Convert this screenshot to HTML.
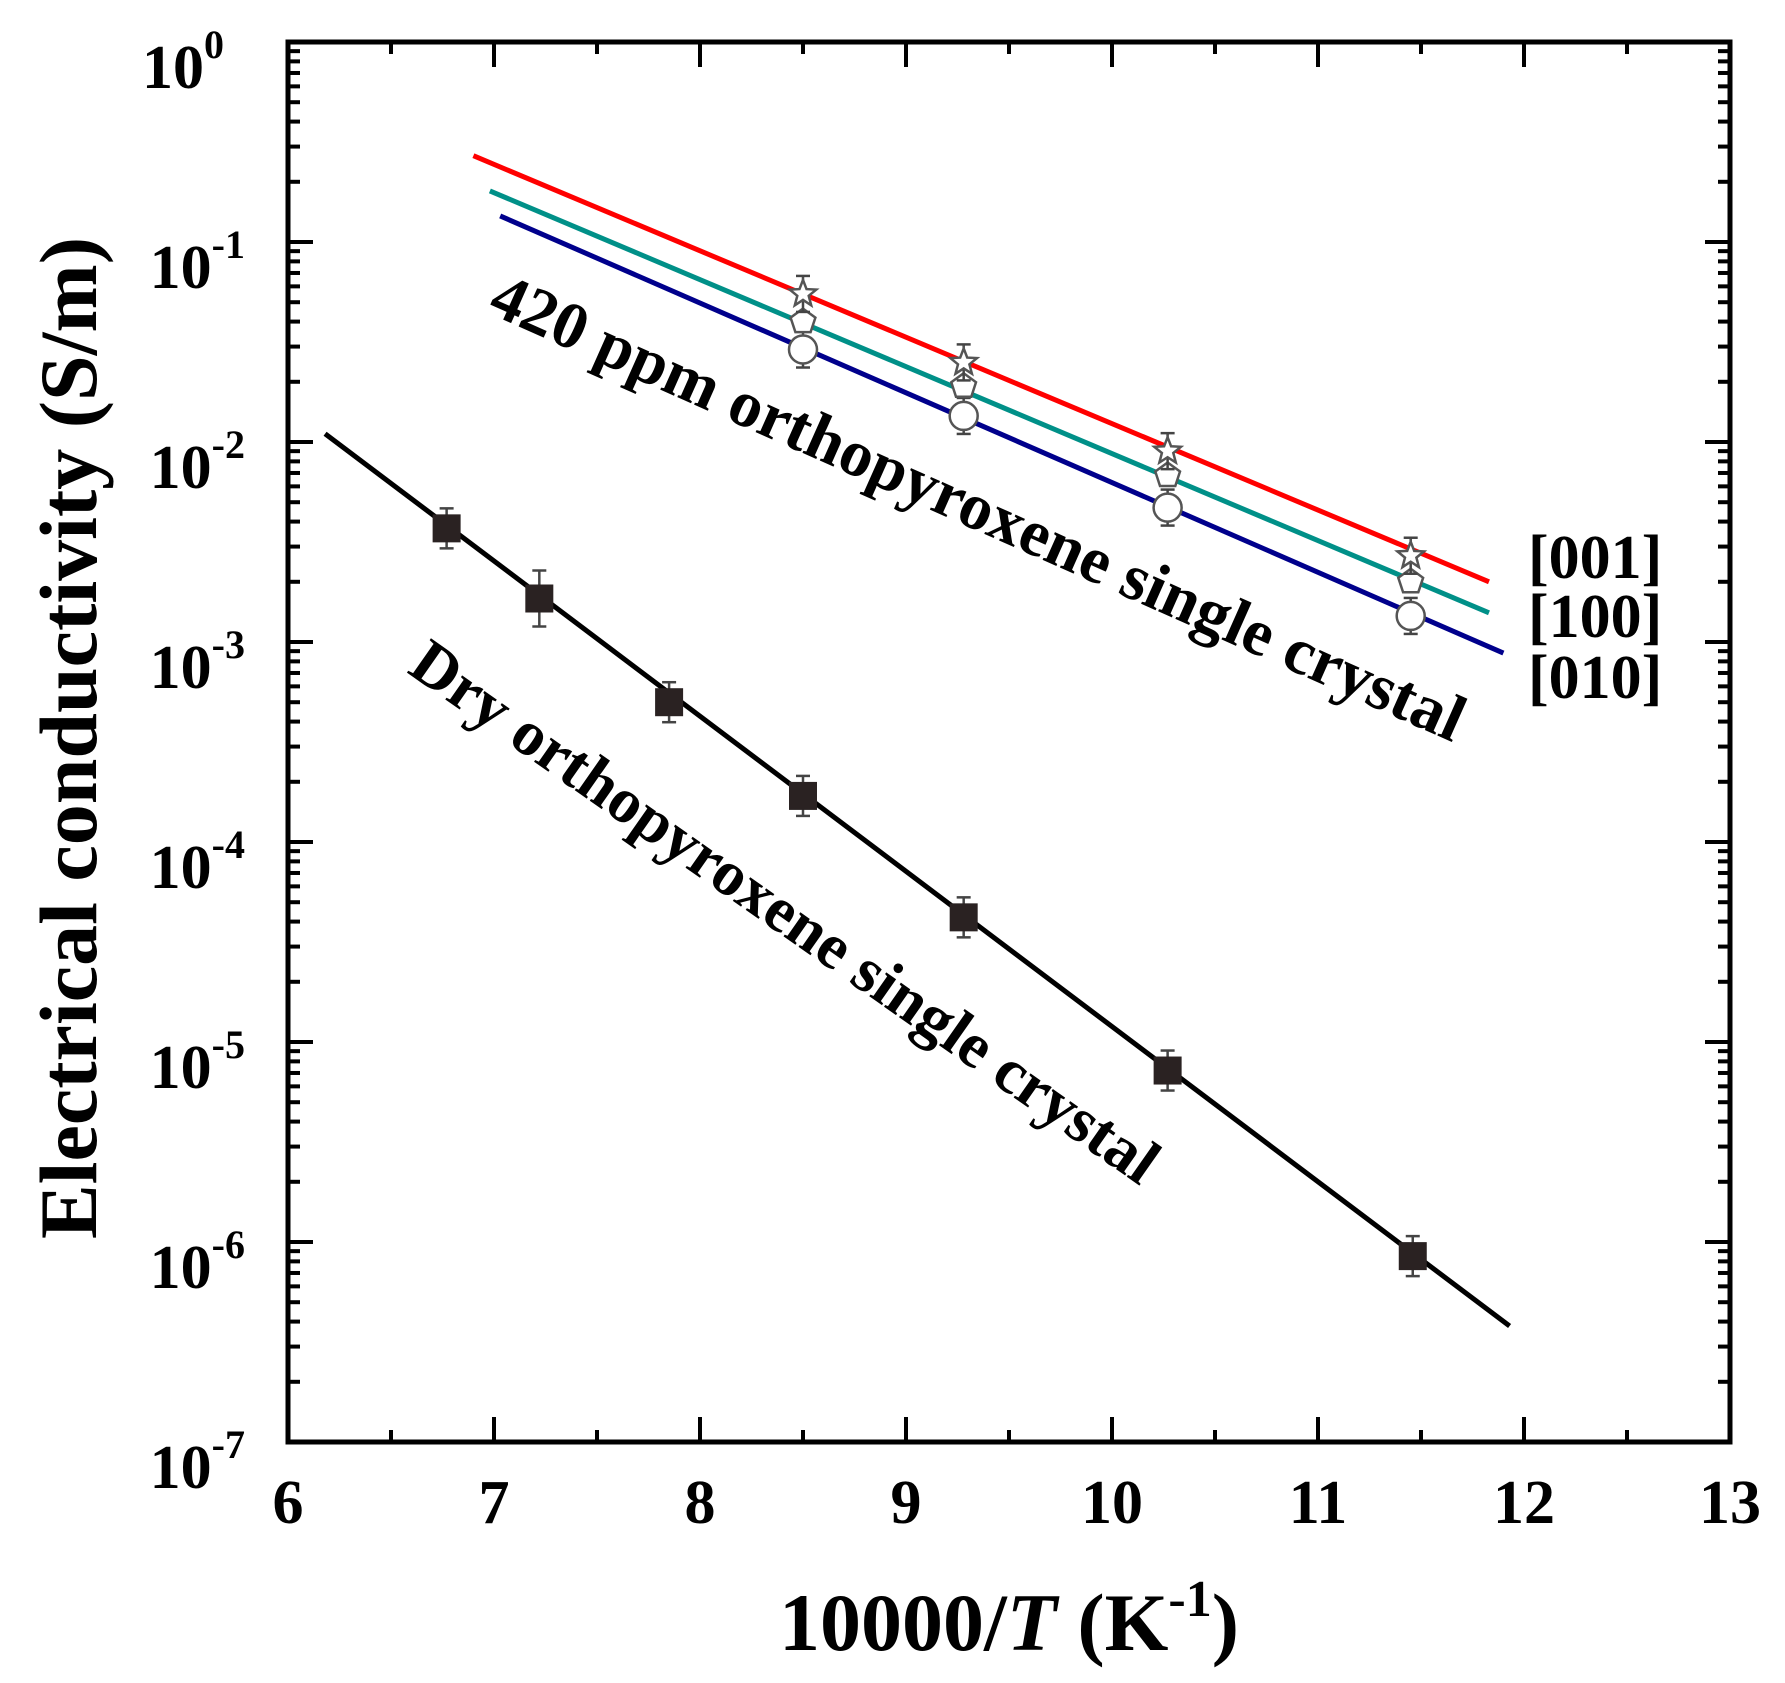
<!DOCTYPE html>
<html><head><meta charset="utf-8"><style>
html,body{margin:0;padding:0;background:#fff;}
svg{display:block;font-family:"Liberation Serif",serif;font-weight:bold;}
</style></head><body>
<svg id="s" width="1785" height="1683" viewBox="0 0 1785 1683" xmlns="http://www.w3.org/2000/svg"></svg>
<script>
const L=288,R=1730,T=42,B=1442;
const X=v=>L+(v-6)*(R-L)/7;
const Y=v=>T+(-Math.log10(v))*(B-T)/7;
let h='';
for(let i=6;i<=13;i+=0.5){const x=X(i);const len=(i%1===0)?25:12;
 h+=`<line x1="${x}" y1="${B}" x2="${x}" y2="${B-len}" stroke="#000" stroke-width="4"/>`;
 h+=`<line x1="${x}" y1="${T}" x2="${x}" y2="${T+len}" stroke="#000" stroke-width="4"/>`;
 if(i%1===0) h+=`<text x="${x}" y="1523" font-size="62" text-anchor="middle">${i}</text>`;}
for(let d=0;d>=-7;d--){
 for(let m=1;m<=9;m++){if(d===0&&m>1)break;
  const y=Y(m*Math.pow(10,d));if(y<T-1||y>B+1)continue;const len=m===1?25:12;
  h+=`<line x1="${L}" y1="${y}" x2="${L+len}" y2="${y}" stroke="#000" stroke-width="4"/>`;
  h+=`<line x1="${R}" y1="${y}" x2="${R-len}" y2="${y}" stroke="#000" stroke-width="4"/>`;}
 const y=Y(Math.pow(10,d));
 h+=`<text x="${d===0?224:245}" y="${y+46}" font-size="62" text-anchor="end">10<tspan dy="-30" font-size="40">${d===0?'0':'-'+(-d)}</tspan></text>`;
}
h+=`<rect x="${L}" y="${T}" width="${R-L}" height="${B-T}" fill="none" stroke="#000" stroke-width="5"/>`;
const ln=(x1,y1,x2,y2,c)=>`<line x1="${X(x1)}" y1="${Y(y1)}" x2="${X(x2)}" y2="${Y(y2)}" stroke="${c}" stroke-width="5"/>`;
h+=ln(6.18,1.1e-2,11.93,3.8e-7,'#000');
h+=ln(6.9,0.27,11.83,2e-3,'#f00');
h+=ln(6.98,0.18,11.83,1.4e-3,'#009088');
h+=ln(7.03,0.135,11.9,8.8e-4,'#00008c');
const eb=(x,v,e)=>{const cx=X(x),y=Y(v);return `<line x1="${cx}" y1="${y-e}" x2="${cx}" y2="${y+e}" stroke="#444" stroke-width="2.5"/><line x1="${cx-7}" y1="${y-e}" x2="${cx+7}" y2="${y-e}" stroke="#444" stroke-width="2.5"/><line x1="${cx-7}" y1="${y+e}" x2="${cx+7}" y2="${y+e}" stroke="#444" stroke-width="2.5"/>`;};
[[6.77,3.7e-3],[7.22,1.65e-3],[7.85,5e-4],[8.5,1.7e-4],[9.28,4.2e-5],[10.27,7.2e-6],[11.46,8.5e-7]].forEach(([x,v],i)=>{
 h+=eb(x,v,i==1?28:20);h+=`<rect x="${X(x)-14}" y="${Y(v)-14}" width="28" height="28" fill="#2a2222"/>`;});
const xs=[8.5,9.28,10.27,11.45];
const circ=[0.029,0.0135,0.0047,0.00135],pent=[0.04,0.019,0.0068,0.002],star=[0.055,0.025,0.009,0.0027];
xs.forEach((x,i)=>{const cx=X(x);
 h+=eb(x,circ[i],18);
 let y=Y(circ[i]);h+=`<circle cx="${cx}" cy="${y}" r="14" fill="#fff" stroke="#555" stroke-width="2.5"/>`;
 y=Y(pent[i]);let p=[];for(let k=0;k<5;k++){const a=-Math.PI/2+k*2*Math.PI/5;p.push((cx+13*Math.cos(a)).toFixed(1)+','+(y+13*Math.sin(a)).toFixed(1));}
 h+=`<polygon points="${p.join(' ')}" fill="#fff" stroke="#555" stroke-width="2.5"/>`;
 h+=eb(x,star[i],18);
 y=Y(star[i]);p=[];for(let k=0;k<10;k++){const a=-Math.PI/2+k*Math.PI/5,r=k%2?6:14;p.push((cx+r*Math.cos(a)).toFixed(1)+','+(y+r*Math.sin(a)).toFixed(1));}
 h+=`<polygon points="${p.join(' ')}" fill="#fff" stroke="#555" stroke-width="2.5"/>`;
});
h+=`<text x="486" y="312" font-size="66" transform="rotate(24 486 312)">420 ppm orthopyroxene single crystal</text>`;
h+=`<text x="406" y="672" font-size="64" transform="rotate(35 406 672)">Dry orthopyroxene single crystal</text>`;
h+=`<text x="1528" y="578" font-size="62">[001]</text>`;
h+=`<text x="1528" y="637" font-size="62">[100]</text>`;
h+=`<text x="1528" y="698" font-size="62">[010]</text>`;
h+=`<text x="1009" y="1650" font-size="82" text-anchor="middle">10000/<tspan font-style="italic">T</tspan> (K<tspan dy="-34" font-size="52">-1</tspan><tspan dy="34">)</tspan></text>`;
h+=`<text x="0" y="0" font-size="82" text-anchor="middle" transform="translate(96 738) rotate(-90)">Electrical conductivity (S/m)</text>`;
document.getElementById('s').innerHTML=h;
</script>
</body></html>
